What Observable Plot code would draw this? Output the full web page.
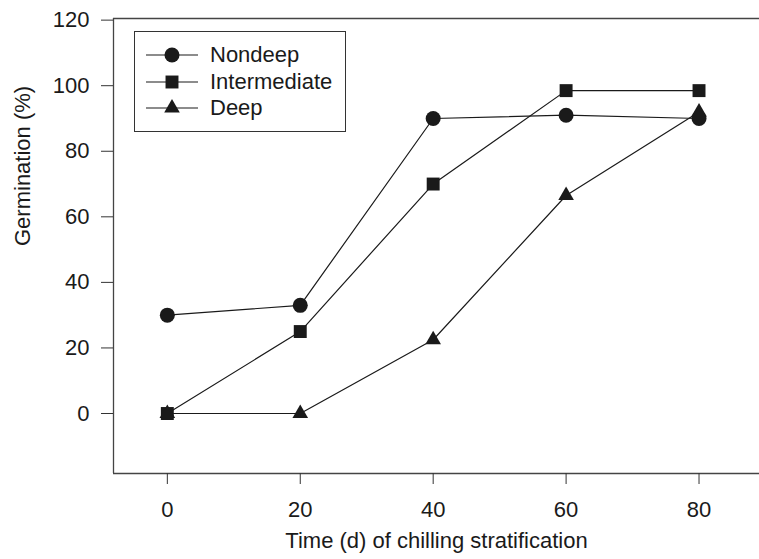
<!DOCTYPE html>
<html>
<head>
<meta charset="utf-8">
<script src="https://cdn.jsdelivr.net/npm/d3@7"></script>
<script src="https://cdn.jsdelivr.net/npm/@observablehq/plot@0.6"></script>
<style>
  html, body { margin: 0; padding: 0; background: #fff; }
  #wrap { position: relative; width: 759px; height: 559px; font-family: "Liberation Sans", Arial, sans-serif; }
  #legend { position: absolute; left: 134px; top: 31px; width: 212px; height: 101px; border: 1px solid #333; box-sizing: border-box; background: #fff; }
  #legend .row { position: absolute; left: 0; height: 24px; display: flex; align-items: center; white-space: nowrap; }
  #legend .row span { font-size: 22px; color: #1a1a1a; margin-left: 11px; }
</style>
</head>
<body>
<div id="wrap"><div id="chart"></div><div id="legend"></div></div>
<script>
const days = [0, 20, 40, 60, 80];
const nondeep = [30, 33, 90, 91, 90];
const intermediate = [0, 25, 70, 98.5, 98.5];
const deep = [0, 0, 22.5, 66.5, 92];
const seriesNames = ["Nondeep", "Intermediate", "Deep"];
const seriesSymbols = ["circle", "square", "triangle"];
const yTicks = [0, 20, 40, 60, 80, 100, 120];
const xTicks = [0, 20, 40, 60, 80];
const xLabel = "Time (d) of chilling stratification";
const yLabel = "Germination (%)";

const allSeries = [nondeep, intermediate, deep];
const data = allSeries.flatMap((vals, i) =>
  days.map((d, j) => ({series: seriesNames[i], symbol: seriesSymbols[i], day: d, value: vals[j]})));

const xDomain = [-8.1, 89.1];
const yDomain = [-18.3, 120.5];
const ink = "#1a1a1a";
const sizes = {circle: 7.5, square: 7.3, triangle: 5.8};
const fs = 22;

const plot = Plot.plot({
  width: 759,
  height: 559,
  marginLeft: 113,
  marginRight: 0,
  marginTop: 18,
  marginBottom: 86,
  style: {fontFamily: "'Liberation Sans', Arial, sans-serif", fontSize: fs + "px", color: ink, background: "white"},
  x: {domain: xDomain},
  y: {domain: yDomain},
  marks: [
    Plot.ruleX([xDomain[0]], {stroke: "#444", strokeWidth: 1.3}),
    Plot.ruleY([yDomain[0], yDomain[1]], {stroke: "#444", strokeWidth: 1.3}),
    Plot.axisY({ticks: yTicks, tickSize: 12, tickPadding: 12, fontSize: fs, stroke: "#333", label: null}),
    Plot.axisX({ticks: xTicks, tickSize: 11, tickPadding: 17, fontSize: fs, stroke: "#333", label: null}),
    Plot.text([yLabel], {frameAnchor: "left", rotate: -90, dx: -91, fontSize: fs, fill: ink}),
    Plot.text([xLabel], {frameAnchor: "bottom", dy: 74.5, fontSize: fs, fill: ink}),
    Plot.line(data, {x: "day", y: "value", z: "series", stroke: ink, strokeWidth: 1.2}),
    ...seriesNames.map((name, i) =>
      Plot.dot(data.filter(d => d.series === name), {
        x: "day", y: "value", symbol: seriesSymbols[i], r: sizes[seriesSymbols[i]], fill: ink, stroke: "none"
      }))
  ]
});
document.getElementById("chart").appendChild(plot);

// legend
const legend = document.getElementById("legend");
const rowTops = [11, 38, 64];
seriesNames.forEach((name, i) => {
  const row = document.createElement("div");
  row.className = "row";
  row.style.top = rowTops[i] + "px";
  const sym = d3.symbol().type({circle: d3.symbolCircle, square: d3.symbolSquare, triangle: d3.symbolTriangle}[seriesSymbols[i]])
    .size(Math.PI * sizes[seriesSymbols[i]] ** 2)();
  row.innerHTML = `<svg width="64" height="24"><line x1="11" x2="63" y1="12" y2="12" stroke="${ink}" stroke-width="1.2"/>` +
    `<path d="${sym}" transform="translate(37,12)" fill="${ink}"/></svg><span>${name}</span>`;
  legend.appendChild(row);
});
</script>
</body>
</html>
